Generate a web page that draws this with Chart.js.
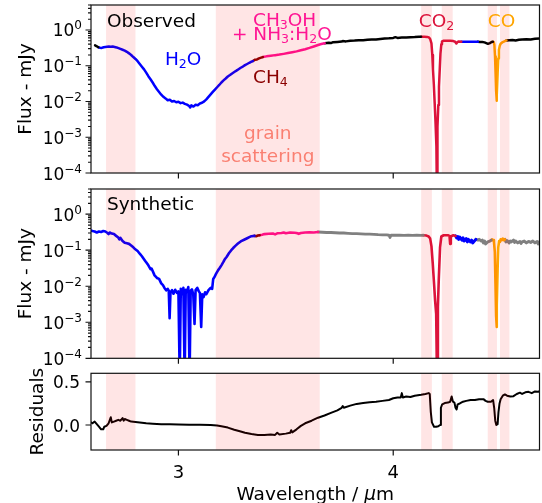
<!DOCTYPE html>
<html>
<head>
<meta charset="utf-8">
<script src="https://cdn.jsdelivr.net/npm/chart.js@4.4.0/dist/chart.umd.min.js"></script>
<style>
    body { margin: 0; background: #fff; }
    canvas { position: absolute; left: 0; }
</style>
</head>
<body>
<canvas id="obs-chart" width="542" height="190" style="top:0px"></canvas>
<canvas id="syn-chart" width="542" height="192" style="top:180px"></canvas>
<canvas id="res-chart" width="542" height="143" style="top:360px"></canvas>
<script>
// axis ranges and tick labels
const waveMin = 2.593;
const waveMax = 4.681;
const fluxMin = 1e-4;
const fluxMax = 5;
const resMin = -0.29;
const resMax = 0.6;
const waveTickValues = [3, 4];
const waveTickLabels = ['3', '4'];
const logTickValues = [1e-4, 1e-3, 1e-2, 1e-1, 1];
const logTickExps = ['\u22124', '\u22123', '\u22122', '\u22121', '0'];
const resTickValues = [0, 0.5];
const resTickLabels = ['0.0', '0.5'];

// shaded wavelength windows
const bandStart = [2.663, 3.174, 4.130, 4.226, 4.440, 4.497];
const bandEnd   = [2.800, 3.658, 4.180, 4.277, 4.483, 4.541];

// observed spectrum, one pair of arrays per coloured piece
const obsStartWave = [2.612, 2.620, 2.627];
const obsStartFlux = [0.37, 0.35, 0.33];
const obsH2oWave = [2.627, 2.635, 2.643, 2.652, 2.66, 2.668, 2.676, 2.685, 2.694, 2.703, 2.712, 2.721, 2.73, 2.74, 2.75,
    2.76, 2.77, 2.78, 2.79, 2.80, 2.81, 2.82, 2.83, 2.84, 2.85, 2.86, 2.87, 2.88, 2.89, 2.90, 2.91, 2.92, 2.93, 2.94,
    2.95, 2.96, 2.97, 2.98, 2.99, 3.00, 3.01, 3.02, 3.03, 3.04, 3.05, 3.055, 3.06, 3.07, 3.08, 3.09, 3.10, 3.11, 3.12,
    3.13, 3.14, 3.15, 3.16, 3.17, 3.18, 3.19, 3.20, 3.21, 3.22, 3.23, 3.24, 3.25, 3.26, 3.27, 3.28, 3.29, 3.30, 3.31,
    3.32, 3.33, 3.34, 3.347];
const obsH2oFlux = [0.33, 0.32, 0.315, 0.33, 0.335, 0.34, 0.345, 0.34, 0.345, 0.335, 0.325, 0.31, 0.295, 0.28, 0.265,
    0.245, 0.222, 0.20, 0.175, 0.155, 0.134, 0.112, 0.094, 0.079, 0.064, 0.051, 0.042, 0.034, 0.027, 0.022, 0.0185,
    0.0155, 0.0135, 0.0122, 0.0108, 0.0112, 0.0100, 0.0103, 0.0095, 0.0098, 0.0090, 0.0093, 0.0086, 0.0082, 0.0075,
    0.0068, 0.0078, 0.0072, 0.0081, 0.0079, 0.0088, 0.0092, 0.0101, 0.0115, 0.0135, 0.0158, 0.0185, 0.0215, 0.025,
    0.029, 0.034, 0.039, 0.044, 0.050, 0.055, 0.061, 0.067, 0.073, 0.080, 0.088, 0.095, 0.104, 0.112, 0.121, 0.130, 0.135];
const obsCh4Wave = [3.347, 3.357, 3.366, 3.375, 3.385, 3.393];
const obsCh4Flux = [0.135, 0.148, 0.150, 0.160, 0.168, 0.175];
const obsCh3ohWave = [3.393, 3.41, 3.43, 3.45, 3.47, 3.49, 3.51, 3.53, 3.55, 3.57, 3.59, 3.61, 3.63, 3.65, 3.665, 3.681];
const obsCh3ohFlux = [0.175, 0.183, 0.19, 0.198, 0.205, 0.215, 0.226, 0.238, 0.252, 0.27, 0.29, 0.315, 0.345, 0.38, 0.405, 0.425];
const obsContWave = [3.681, 3.70, 3.71, 3.72, 3.74, 3.76, 3.765, 3.78, 3.80, 3.82, 3.84, 3.86, 3.88, 3.90, 3.92, 3.94,
    3.96, 3.98, 4.00, 4.01, 4.02, 4.04, 4.06, 4.08, 4.10, 4.12, 4.13];
const obsContFlux = [0.425, 0.44, 0.43, 0.455, 0.465, 0.475, 0.49, 0.48, 0.50, 0.505, 0.515, 0.52, 0.535, 0.545, 0.54,
    0.56, 0.575, 0.585, 0.60, 0.63, 0.60, 0.615, 0.62, 0.63, 0.635, 0.645, 0.65];
const obsCo2Wave = [4.13, 4.145, 4.158, 4.166, 4.172, 4.178, 4.182, 4.185, 4.189, 4.193, 4.197, 4.201, 4.204, 4.206,
    4.21, 4.213, 4.217, 4.22, 4.224, 4.227, 4.235, 4.25, 4.265, 4.28, 4.288, 4.294, 4.299, 4.305, 4.317];
const obsCo2Flux = [0.65, 0.65, 0.64, 0.62, 0.56, 0.42, 0.2, 0.08, 0.03, 0.009, 0.0025, 0.00055, 0.00001, 0.002,
    0.008, 0.026, 0.09, 0.22, 0.4, 0.48, 0.5, 0.5, 0.5, 0.49, 0.47, 0.42, 0.46, 0.48, 0.47];
const obsBlueWave = [4.317, 4.33, 4.345, 4.36, 4.375, 4.394];
const obsBlueFlux = [0.47, 0.47, 0.468, 0.47, 0.472, 0.47];
const obsMidWave = [4.394, 4.405, 4.415, 4.425, 4.433, 4.441, 4.45, 4.458, 4.464];
const obsMidFlux = [0.47, 0.465, 0.46, 0.45, 0.43, 0.41, 0.43, 0.46, 0.47];
const obsCoWave = [4.464, 4.468, 4.471, 4.474, 4.477, 4.479, 4.481, 4.483, 4.486, 4.489, 4.492, 4.496, 4.50, 4.51, 4.52, 4.527];
const obsCoFlux = [0.47, 0.46, 0.38, 0.18, 0.05, 0.02, 0.0105, 0.015, 0.06, 0.16, 0.28, 0.36, 0.41, 0.46, 0.49, 0.51];
const obsTailWave = [4.527, 4.54, 4.555, 4.57, 4.585, 4.60, 4.62, 4.64, 4.66, 4.681];
const obsTailFlux = [0.51, 0.52, 0.525, 0.51, 0.53, 0.54, 0.55, 0.545, 0.57, 0.58];

// synthetic spectrum
const synH2oWave = [2.593, 2.60, 2.61, 2.62, 2.63, 2.64, 2.65, 2.66, 2.67, 2.675, 2.68, 2.69, 2.70, 2.71, 2.72, 2.725,
    2.73, 2.74, 2.75, 2.76, 2.77, 2.78, 2.79, 2.796, 2.81, 2.82, 2.83, 2.843, 2.85, 2.86, 2.87, 2.875, 2.889, 2.90,
    2.91, 2.92, 2.928, 2.935, 2.943, 2.95, 2.955, 2.959, 2.963, 2.97, 2.977, 2.985, 2.993, 3.000, 3.006, 3.011, 3.017,
    3.023, 3.029, 3.034, 3.04, 3.046, 3.052, 3.057, 3.063, 3.069, 3.075, 3.08, 3.088, 3.095, 3.100, 3.106, 3.111,
    3.117, 3.124, 3.13, 3.14, 3.15, 3.157, 3.162, 3.168, 3.175, 3.185, 3.192, 3.20, 3.21, 3.215, 3.225, 3.235,
    3.246, 3.255, 3.265, 3.277, 3.29, 3.308, 3.32, 3.33, 3.34, 3.354];
const synH2oFlux = [0.35, 0.34, 0.33, 0.31, 0.33, 0.32, 0.34, 0.33, 0.30, 0.28, 0.31, 0.29, 0.28, 0.25, 0.225, 0.20,
    0.22, 0.18, 0.16, 0.155, 0.15, 0.135, 0.12, 0.11, 0.095, 0.08, 0.068, 0.053, 0.046, 0.038, 0.030, 0.031, 0.020,
    0.017, 0.016, 0.012, 0.0107, 0.009, 0.0077, 0.0085, 0.0075, 0.0013, 0.0068, 0.0078, 0.0062, 0.0080, 0.0065,
    0.0072, 0.00003, 0.0085, 0.0060, 0.0090, 0.00003, 0.0080, 0.0070, 0.0095, 0.00003, 0.0075, 0.0082, 0.0060,
    0.0009, 0.0078, 0.0090, 0.0072, 0.0065, 0.00074, 0.0060, 0.0050, 0.0068, 0.0060, 0.0078, 0.0090, 0.0085, 0.016,
    0.018, 0.022, 0.028, 0.032, 0.038, 0.048, 0.055, 0.066, 0.082, 0.10, 0.115, 0.132, 0.153, 0.175, 0.198, 0.215,
    0.23, 0.245, 0.25];
const synCh4Wave = [3.354, 3.362, 3.37, 3.378];
const synCh4Flux = [0.25, 0.245, 0.255, 0.26];
const synCh3ohWave = [3.378, 3.39, 3.40, 3.42, 3.44, 3.45, 3.46, 3.48, 3.49, 3.50, 3.52, 3.54, 3.55, 3.56, 3.57, 3.59,
    3.61, 3.63, 3.65];
const synCh3ohFlux = [0.26, 0.27, 0.28, 0.285, 0.29, 0.275, 0.295, 0.30, 0.31, 0.295, 0.31, 0.305, 0.30, 0.285, 0.30,
    0.31, 0.315, 0.31, 0.32];
const synContWave = [3.65, 3.67, 3.69, 3.71, 3.73, 3.75, 3.77, 3.79, 3.81, 3.83, 3.85, 3.87, 3.89, 3.91, 3.93, 3.95,
    3.97, 3.98, 3.985, 3.99, 4.01, 4.03, 4.05, 4.07, 4.09, 4.11, 4.13, 4.14];
const synContFlux = [0.32, 0.315, 0.31, 0.31, 0.305, 0.30, 0.30, 0.295, 0.29, 0.29, 0.285, 0.28, 0.28, 0.275, 0.27,
    0.268, 0.265, 0.26, 0.225, 0.262, 0.26, 0.262, 0.258, 0.26, 0.258, 0.26, 0.258, 0.26];
const synCo2Wave = [4.14, 4.155, 4.165, 4.172, 4.178, 4.184, 4.19, 4.195, 4.200, 4.204, 4.208, 4.212, 4.218, 4.224,
    4.235, 4.255, 4.262, 4.265, 4.268, 4.28, 4.29];
const synCo2Flux = [0.26, 0.255, 0.24, 0.21, 0.13, 0.043, 0.012, 0.004, 0.0017, 0.00002, 0.0027, 0.015, 0.12, 0.24,
    0.26, 0.26, 0.25, 0.15, 0.24, 0.26, 0.25];
const synBlueWave = [4.29, 4.295, 4.30, 4.305, 4.31, 4.32, 4.325, 4.33, 4.34, 4.345, 4.35, 4.36, 4.365, 4.37, 4.38, 4.385];
const synBlueFlux = [0.25, 0.22, 0.24, 0.20, 0.23, 0.19, 0.22, 0.18, 0.21, 0.17, 0.20, 0.17, 0.19, 0.16, 0.185, 0.20];
const synMidWave = [4.385, 4.395, 4.40, 4.41, 4.415, 4.42, 4.425, 4.43, 4.44, 4.45, 4.456];
const synMidFlux = [0.20, 0.19, 0.20, 0.18, 0.19, 0.16, 0.18, 0.15, 0.17, 0.18, 0.19];
const synCoWave = [4.456, 4.46, 4.465, 4.469, 4.473, 4.476, 4.479, 4.481, 4.483, 4.486, 4.489, 4.493, 4.497, 4.50,
    4.505, 4.51, 4.515, 4.52];
const synCoFlux = [0.19, 0.20, 0.19, 0.17, 0.09, 0.012, 0.0015, 0.00074, 0.003, 0.03, 0.12, 0.18, 0.17, 0.20, 0.19,
    0.21, 0.19, 0.20];
const synTailWave = [4.52, 4.525, 4.53, 4.54, 4.545, 4.55, 4.56, 4.565, 4.57, 4.58, 4.59, 4.595, 4.60, 4.61, 4.62,
    4.63, 4.64, 4.65, 4.66, 4.67, 4.675, 4.681];
const synTailFlux = [0.20, 0.17, 0.185, 0.16, 0.18, 0.17, 0.19, 0.165, 0.18, 0.16, 0.175, 0.155, 0.17, 0.18, 0.16,
    0.175, 0.165, 0.18, 0.16, 0.175, 0.15, 0.17];

// residuals
const resWave = [2.593, 2.60, 2.61, 2.62, 2.63, 2.64, 2.65, 2.655, 2.665, 2.675, 2.685, 2.69, 2.70, 2.71, 2.72, 2.73,
    2.74, 2.745, 2.75, 2.76, 2.77, 2.78, 2.80, 2.82, 2.85, 2.88, 2.92, 2.96, 3.00, 3.05, 3.10, 3.15, 3.18, 3.20,
    3.23, 3.26, 3.29, 3.31, 3.34, 3.37, 3.40, 3.43, 3.45, 3.46, 3.47, 3.50, 3.52, 3.525, 3.53, 3.55, 3.57, 3.59,
    3.62, 3.65, 3.68, 3.71, 3.74, 3.76, 3.765, 3.77, 3.80, 3.83, 3.86, 3.89, 3.92, 3.95, 3.98, 4.00, 4.02, 4.035,
    4.04, 4.045, 4.06, 4.08, 4.10, 4.13, 4.15, 4.165, 4.17, 4.175, 4.18, 4.19, 4.20, 4.21, 4.218, 4.222, 4.228,
    4.24, 4.255, 4.265, 4.272, 4.278, 4.285, 4.29, 4.295, 4.30, 4.31, 4.325, 4.34, 4.36, 4.38, 4.40, 4.42, 4.43,
    4.44, 4.455, 4.465, 4.47, 4.475, 4.48, 4.486, 4.49, 4.495, 4.50, 4.51, 4.52, 4.53, 4.545, 4.56, 4.575, 4.59,
    4.60, 4.615, 4.63, 4.645, 4.66, 4.675, 4.681];
const resValue = [0.03, 0.02, 0.04, 0.01, -0.02, -0.05, -0.05, -0.02, -0.01, 0.02, 0.09, 0.03, 0.04, 0.05, 0.06, 0.05,
    0.08, 0.05, 0.07, 0.06, 0.05, 0.04, 0.035, 0.03, 0.02, 0.015, 0.01, 0.008, 0.005, 0.003, 0.002, 0.0, -0.005,
    -0.015, -0.03, -0.055, -0.075, -0.09, -0.105, -0.115, -0.115, -0.11, -0.115, -0.09, -0.11, -0.10, -0.09, -0.06,
    -0.085, -0.05, -0.01, 0.02, 0.05, 0.085, 0.11, 0.14, 0.17, 0.20, 0.22, 0.20, 0.225, 0.245, 0.255, 0.265, 0.27,
    0.28, 0.29, 0.31, 0.32, 0.32, 0.37, 0.32, 0.33, 0.325, 0.34, 0.35, 0.36, 0.37, 0.36, 0.15, 0.03, -0.02, -0.02,
    -0.015, 0.0, 0.2, 0.24, 0.255, 0.26, 0.27, 0.33, 0.27, 0.26, 0.20, 0.18, 0.24, 0.25, 0.27, 0.28, 0.29, 0.29, 0.30,
    0.30, 0.28, 0.27, 0.27, 0.29, 0.20, 0.05, 0.0, 0.01, 0.15, 0.25, 0.30, 0.34, 0.355, 0.34, 0.33, 0.335, 0.36,
    0.375, 0.36, 0.38, 0.385, 0.37, 0.39, 0.385, 0.395];

// annotations (text, position in data units)
const obsNoteText  = ['Observed', 'H_2O', 'CH_3OH', '+ NH_3:H_2O', 'CH_4', 'grain', 'scattering', 'CO_2', 'CO'];
const obsNoteWave  = [2.667, 2.937, 3.347, 3.249, 3.347, 3.416, 3.416, 4.119, 4.440];
const obsNoteFlux  = [1.21, 0.105, 1.29, 0.525, 0.0323, 8.65e-4, 2.03e-4, 1.21, 1.21];
const obsNoteColor = ['black', 'blue', 'deeppink', 'deeppink', 'darkred', 'salmon', 'salmon', 'crimson', 'orange'];
const obsNoteAlign = ['left', 'left', 'left', 'left', 'left', 'center', 'center', 'left', 'left'];
const synNoteText  = ['Synthetic'];
const synNoteWave  = [2.667];
const synNoteFlux  = [1.29];
const synNoteColor = ['black'];
const synNoteAlign = ['left'];

const FONT = '"DejaVu Sans"';

function seg(wave, values, color, width) {
    return {
        data: wave.map((w, i) => ({ x: w, y: values[i] })),
        borderColor: color,
        borderWidth: width || 2.5,
        pointRadius: 0,
        fill: false,
        tension: 0,
        borderJoinStyle: 'round',
        borderCapStyle: 'round'
    };
}

function drawRich(ctx, text, x, y, size, color, align) {
    const parts = [];
    for (let i = 0; i < text.length; i++) {
        if (text[i] === '_') {
            parts.push({ t: text[i + 1], sub: true });
            i++;
        } else {
            parts.push({ t: text[i], sub: false });
        }
    }
    const fontOf = p => (p.sub ? size * 0.68 : size) + 'px ' + FONT;
    let total = 0;
    parts.forEach(p => {
        ctx.font = fontOf(p);
        p.w = ctx.measureText(p.t).width;
        total += p.w;
    });
    let cx = align === 'center' ? x - total / 2 : x;
    ctx.fillStyle = color;
    ctx.textAlign = 'left';
    ctx.textBaseline = 'alphabetic';
    parts.forEach(p => {
        ctx.font = fontOf(p);
        ctx.fillText(p.t, cx, p.sub ? y + size * 0.16 : y);
        cx += p.w;
    });
}

const decorPlugin = {
    id: 'decor',
    afterDatasetsDraw(chart) {
        const { ctx, chartArea: a, scales } = chart;
        ctx.save();
        ctx.fillStyle = 'rgba(255, 0, 0, 0.1)';
        for (let i = 0; i < bandStart.length; i++) {
            const x0 = scales.x.getPixelForValue(bandStart[i]);
            const x1 = scales.x.getPixelForValue(bandEnd[i]);
            ctx.fillRect(x0, a.top, x1 - x0, a.bottom - a.top);
        }
        ctx.restore();
    },
    afterDraw(chart, args, opts) {
        const { ctx, chartArea: a, scales } = chart;
        const x = scales.x, y = scales.y;
        ctx.save();
        // frame and tick marks
        ctx.strokeStyle = '#111';
        ctx.lineWidth = 1.2;
        ctx.strokeRect(a.left, a.top, a.right - a.left, a.bottom - a.top);
        ctx.beginPath();
        y.ticks.forEach(t => {
            const py = y.getPixelForValue(t.value);
            const len = t.big === false ? 3 : 5.5;
            ctx.moveTo(a.left - len, py);
            ctx.lineTo(a.left, py);
        });
        x.ticks.forEach(t => {
            const px = x.getPixelForValue(t.value);
            ctx.moveTo(px, a.bottom);
            ctx.lineTo(px, a.bottom + 5.5);
        });
        ctx.stroke();

        // tick labels
        ctx.fillStyle = '#000';
        ctx.textBaseline = 'alphabetic';
        ctx.textAlign = 'right';
        const lx = a.left - 9;
        if (opts.yKind === 'log') {
            logTickValues.forEach((v, i) => {
                const py = y.getPixelForValue(v);
                ctx.font = '12px ' + FONT;
                const we = ctx.measureText(logTickExps[i]).width;
                ctx.fillText(logTickExps[i], lx, py - 0.5);
                ctx.font = '17px ' + FONT;
                ctx.fillText('10', lx - we, py + 6.5);
            });
        } else {
            ctx.font = '17px ' + FONT;
            resTickValues.forEach((v, i) => {
                ctx.fillText(resTickLabels[i], lx - 2, y.getPixelForValue(v) + 6.5);
            });
        }
        if (opts.xLabels) {
            ctx.textAlign = 'center';
            ctx.font = '18px ' + FONT;
            waveTickValues.forEach((v, i) => {
                ctx.fillText(waveTickLabels[i], x.getPixelForValue(v), a.bottom + 28);
            });
            // x title with italic mu
            ctx.textAlign = 'left';
            const pieces = [['Wavelength / ', ''], ['\u03bc', 'italic '], ['m', '']];
            let total = 0;
            pieces.forEach(p => { ctx.font = p[1] + '18.5px ' + FONT; total += ctx.measureText(p[0]).width; });
            let cx = (a.left + a.right) / 2 - total / 2;
            pieces.forEach(p => {
                ctx.font = p[1] + '18.5px ' + FONT;
                ctx.fillText(p[0], cx, a.bottom + 50);
                cx += ctx.measureText(p[0]).width;
            });
        }

        // y title
        ctx.save();
        ctx.translate(opts.yTitleX, (a.top + a.bottom) / 2);
        ctx.rotate(-Math.PI / 2);
        ctx.textAlign = 'center';
        ctx.font = '18.5px ' + FONT;
        ctx.fillText(opts.yTitle, 0, 0);
        ctx.restore();

        // annotations
        if (opts.noteText) {
            opts.noteText.forEach((txt, i) => {
                drawRich(ctx, txt, x.getPixelForValue(opts.noteWave[i]), y.getPixelForValue(opts.noteFlux[i]),
                    18.5, opts.noteColor[i], opts.noteAlign[i]);
            });
        }
        ctx.restore();
    }
};

function logAxis() {
    return {
        type: 'logarithmic',
        min: fluxMin,
        max: fluxMax,
        afterBuildTicks: s => {
            const t = [];
            logTickValues.forEach(v => {
                for (let m = 1; m <= 9; m++) {
                    if (m * v <= fluxMax) t.push({ value: m * v, big: m === 1 });
                }
            });
            s.ticks = t;
        },
        afterFit: s => { s.width = 91; s.paddingTop = 0; s.paddingBottom = 0; },
        ticks: { display: false },
        grid: { display: false, drawTicks: false },
        border: { display: false }
    };
}

function resAxis() {
    return {
        type: 'linear',
        min: resMin,
        max: resMax,
        afterBuildTicks: s => { s.ticks = resTickValues.map(v => ({ value: v })); },
        afterFit: s => { s.width = 91; s.paddingTop = 0; s.paddingBottom = 0; },
        ticks: { display: false },
        grid: { display: false, drawTicks: false },
        border: { display: false }
    };
}

function makePanel(id, datasets, yScale, padTop, xHeight, decor) {
    return new Chart(document.getElementById(id), {
        type: 'line',
        data: { datasets: datasets },
        options: {
            responsive: false,
            animation: false,
            devicePixelRatio: 1,
            events: [],
            layout: { padding: { top: padTop, right: 2.5, left: 0, bottom: 0 } },
            plugins: {
                legend: { display: false },
                tooltip: { enabled: false },
                decor: decor
            },
            scales: {
                x: {
                    type: 'linear',
                    min: waveMin,
                    max: waveMax,
                    afterBuildTicks: s => { s.ticks = waveTickValues.map(v => ({ value: v })); },
                    afterFit: s => { s.height = xHeight; s.paddingLeft = 0; s.paddingRight = 0; },
                    ticks: { display: false },
                    grid: { display: false, drawTicks: false },
                    border: { display: false }
                },
                y: yScale
            }
        },
        plugins: [decorPlugin]
    });
}

document.addEventListener('DOMContentLoaded', function() {
    makePanel('obs-chart', [
        seg(obsStartWave, obsStartFlux, 'black'),
        seg(obsH2oWave, obsH2oFlux, 'blue'),
        seg(obsCh4Wave, obsCh4Flux, 'darkred'),
        seg(obsCh3ohWave, obsCh3ohFlux, 'deeppink'),
        seg(obsContWave, obsContFlux, 'black'),
        seg(obsCo2Wave, obsCo2Flux, 'crimson'),
        seg(obsBlueWave, obsBlueFlux, 'blue'),
        seg(obsMidWave, obsMidFlux, 'black'),
        seg(obsCoWave, obsCoFlux, 'orange'),
        seg(obsTailWave, obsTailFlux, 'black')
    ], logAxis(), 5, 17, {
        yKind: 'log', xLabels: false, yTitle: 'Flux - mJy', yTitleX: 30.5,
        noteText: obsNoteText, noteWave: obsNoteWave, noteFlux: obsNoteFlux,
        noteColor: obsNoteColor, noteAlign: obsNoteAlign
    });

    makePanel('syn-chart', [
        seg(synH2oWave, synH2oFlux, 'blue', 2.6),
        seg(synCh4Wave, synCh4Flux, 'darkred', 2.6),
        seg(synCh3ohWave, synCh3ohFlux, 'deeppink', 2.6),
        seg(synContWave, synContFlux, 'gray', 2.8),
        seg(synCo2Wave, synCo2Flux, 'crimson', 2.6),
        seg(synBlueWave, synBlueFlux, 'blue', 3),
        seg(synMidWave, synMidFlux, 'gray', 3),
        seg(synCoWave, synCoFlux, 'orange', 2.6),
        seg(synTailWave, synTailFlux, 'gray', 3)
    ], logAxis(), 9, 13.7, {
        yKind: 'log', xLabels: false, yTitle: 'Flux - mJy', yTitleX: 30.5,
        noteText: synNoteText, noteWave: synNoteWave, noteFlux: synNoteFlux,
        noteColor: synNoteColor, noteAlign: synNoteAlign
    });

    makePanel('res-chart', [
        seg(resWave, resValue, 'black', 2)
    ], resAxis(), 13.3, 53, {
        yKind: 'linear', xLabels: true, yTitle: 'Residuals', yTitleX: 43
    });
});
</script>
</body>
</html>
